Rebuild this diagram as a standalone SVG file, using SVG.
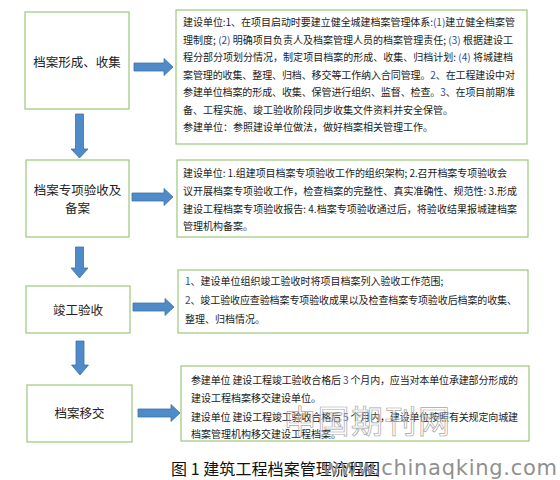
<svg xmlns="http://www.w3.org/2000/svg" width="560" height="480" viewBox="0 0 560 480">
<style>
.box{fill:#ffffff;stroke:#9DC77A;stroke-width:1.2}
.lbl{font-family:"Noto Sans CJK SC","Noto Sans",sans-serif;font-size:12.5px;fill:#222222;text-anchor:middle}
.txt{font-family:"Noto Sans CJK SC","Noto Sans",sans-serif;font-size:10px;fill:#1a1a1a}
.num{fill:#2b4a9a}
.arr{fill:#4F8BC9;stroke:#3E71A6;stroke-width:0.8}
.cap{font-family:"Noto Sans CJK SC","Noto Sans",sans-serif;font-size:16px;fill:#111111}
.wm1{font-family:"Noto Sans CJK SC",sans-serif;font-size:32px;fill:#ffffff;fill-opacity:0.2;stroke:#a8a8a8;stroke-width:0.7}
.wm2{font-family:"DejaVu Sans","Liberation Sans",sans-serif;font-size:21px;fill:#909090}
</style>
<rect width="560" height="480" fill="#ffffff"/>

<g id="connectors">
<polygon class="arr" points="75.5,114 83.5,114 83.5,149 88,149 79.5,158 71,149 75.5,149"/>
<polygon class="arr" points="75.5,247 83.5,247 83.5,268 88,268 79.5,278 71,268 75.5,268"/>
<polygon class="arr" points="76,341 84,341 84,365 88.5,365 80,375 71.5,365 76,365"/>
<polygon class="arr" points="134,63 164,63 164,58.5 173,67 164,75.5 164,71 134,71"/>
<polygon class="arr" points="132,193 164,193 164,188.5 173,197 164,205.5 164,201 132,201"/>
<polygon class="arr" points="133,303 165,303 165,298.5 174,307 165,315.5 165,311 133,311"/>
<polygon class="arr" points="138,409 171,409 171,404.5 180,413 171,421.5 171,417 138,417"/>
</g>

<g id="step1">
<rect class="box" x="25" y="12" width="104" height="97"/>
<text class="lbl" x="77" y="66.5">档案形成、收集</text>
</g>
<g id="step2">
<rect class="box" x="26" y="160" width="103" height="77"/>
<text class="lbl" x="77.5" y="195">档案专项验收及</text>
<text class="lbl" x="77.5" y="212.5">备案</text>
</g>
<g id="step3">
<rect class="box" x="26" y="286" width="104" height="47"/>
<text class="lbl" x="78" y="314.5">竣工验收</text>
</g>
<g id="step4">
<rect class="box" x="27" y="385" width="105" height="57"/>
<text class="lbl" x="79.5" y="417.5">档案移交</text>
</g>

<g id="detail1">
<rect class="box" x="176" y="10" width="351" height="134"/>
<text class="txt" x="183" y="25.8" textLength="332">建设单位:1、在项目启动时要建立健全城建档案管理体系:<tspan class="num">(1)</tspan>建立健全档案管</text>
<text class="txt" x="183" y="43.8" textLength="330">理制度; <tspan class="num">(2)</tspan> 明确项目负责人及档案管理人员的档案管理责任; <tspan class="num">(3)</tspan> 根据建设工</text>
<text class="txt" x="183" y="61.3" textLength="330">程分部分项划分情况，制定项目档案的形成、收集、归档计划: <tspan class="num">(4)</tspan> 将城建档</text>
<text class="txt" x="183" y="78.8" textLength="332">案管理的收集、整理、归档、移交等工作纳入合同管理。<tspan class="num">2</tspan>、在工程建设中对</text>
<text class="txt" x="183" y="96.3" textLength="332">参建单位档案的形成、收集、保管进行组织、监督、检查。<tspan class="num">3</tspan>、在项目前期准</text>
<text class="txt" x="183" y="113.8">备、工程实施、竣工验收阶段同步收集文件资料并安全保管。</text>
<text class="txt" x="183" y="131.3">参建单位：参照建设单位做法，做好档案相关管理工作。</text>
</g>

<g id="detail2">
<rect class="box" x="177" y="160" width="351" height="77"/>
<text class="txt" x="183" y="176.8" textLength="324">建设单位: 1.组建项目档案专项验收工作的组织架构; 2.召开档案专项验收会</text>
<text class="txt" x="183" y="194.8" textLength="334">议开展档案专项验收工作，检查档案的完整性、真实准确性、规范性: 3.形成</text>
<text class="txt" x="183" y="212.8" textLength="334">建设工程档案专项验收报告: 4.档案专项验收通过后，将验收结果报城建档案</text>
<text class="txt" x="183" y="229.8">管理机构备案。</text>
</g>

<g id="detail3">
<rect class="box" x="178" y="270" width="350" height="63"/>
<text class="txt" x="185" y="285.3"><tspan class="num">1</tspan>、建设单位组织竣工验收时将项目档案列入验收工作范围;</text>
<text class="txt" x="185" y="303.8" textLength="332"><tspan class="num">2</tspan>、竣工验收应查验档案专项验收成果以及检查档案专项验收后档案的收集、</text>
<text class="txt" x="185" y="322.8">整理、归档情况。</text>
</g>

<g id="detail4">
<rect class="box" x="181" y="366" width="348" height="75"/>
<text class="txt" x="191" y="384.3" textLength="327">参建单位 建设工程竣工验收合格后 <tspan class="num">3</tspan> 个月内，应当对本单位承建部分形成的</text>
<text class="txt" x="191" y="402.3">建设工程档案移交建设单位。</text>
<text class="txt" x="191" y="420.8" textLength="327">建设单位 建设工程竣工验收合格后 <tspan class="num">5</tspan> 个月内，建设单位按照有关规定向城建</text>
<text class="txt" x="191" y="437.8">档案管理机构移交建设工程档案。</text>
</g>

<text class="wm1" x="284" y="433" textLength="166">中国期刊网</text>
<text class="cap" x="171" y="475" textLength="209">图 1 建筑工程档案管理流程图</text>
<text class="wm2" x="322" y="475" textLength="235">www.chinaqking.com</text>
</svg>
